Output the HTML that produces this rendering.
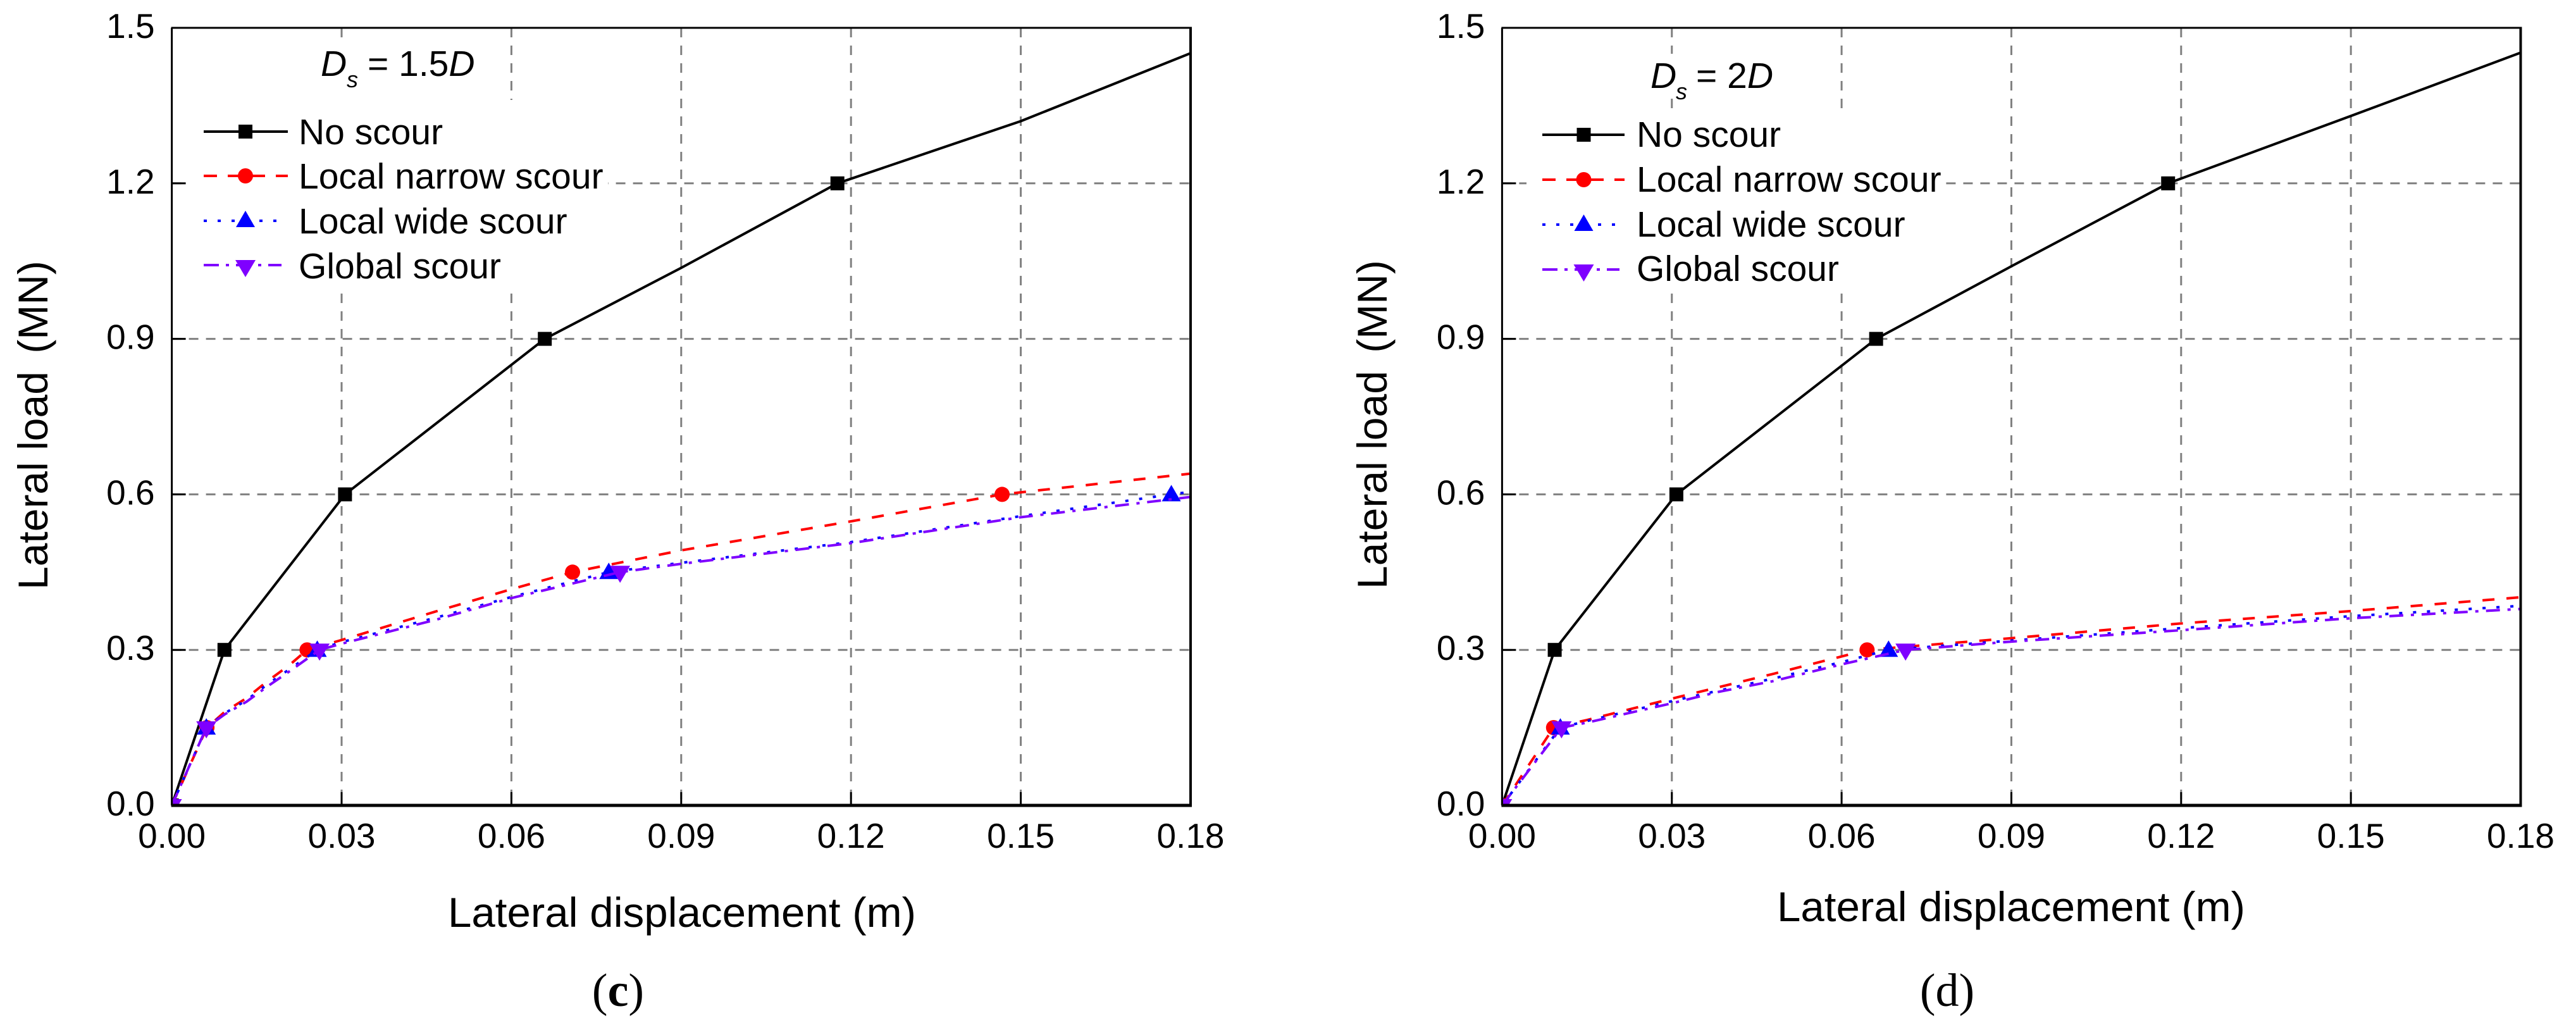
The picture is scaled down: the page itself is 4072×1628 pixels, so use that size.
<!DOCTYPE html>
<html lang="en">
<head>
<meta charset="utf-8">
<title>Lateral load vs lateral displacement under scour, panels c and d</title>
<style>
  html, body { margin: 0; padding: 0; background: #fff; }
  svg { display: block; }
  text { font-family: "Liberation Sans", Arial, sans-serif; fill: #000; }
  .tick { font-size: 55px; }
  .title { font-size: 66px; }
  .leg { font-size: 57px; }
  .note { font-size: 57px; }
  .cap { font-family: "Liberation Serif", "Times New Roman", serif; font-size: 74px; }
</style>
</head>
<body>
<svg id="chart" xmlns="http://www.w3.org/2000/svg" width="4072" height="1628" viewBox="0 0 4072 1628">
  <rect x="0" y="0" width="4072" height="1628" fill="#fff"/>
  <defs>
    <clipPath id="clip-c"><rect x="271.6" y="44" width="1610.4" height="1229"/></clipPath>
    <clipPath id="clip-d"><rect x="2374.4" y="44" width="1610.1" height="1229"/></clipPath>
  </defs>

  <g id="panel-c">
    <g id="grid-c"></g>
    <rect x="490" y="65" width="100" height="93" fill="#fff"/>
    <rect x="296" y="158" width="665" height="304" fill="#fff"/>
    <g id="series-c" clip-path="url(#clip-c)"></g>
    <g id="axes-c"></g>

    <g>
      <text class="note" x="507" y="120" font-style="italic">D</text>
      <text x="548" y="138" font-size="36" font-style="italic">s</text>
      <text class="note" x="581" y="120">= 1.5<tspan font-style="italic">D</tspan></text>
    </g>

    <g>
      <g>
        <line x1="322" y1="208" x2="455" y2="208" stroke="#000" stroke-width="4"/>
        <rect x="377" y="197" width="22" height="22" fill="#000"/>
        <text class="leg" x="472" y="228">No scour</text>
      </g>
      <g>
        <line x1="322" y1="278" x2="455" y2="278" stroke="#f00" stroke-width="4" stroke-dasharray="21 17"/>
        <circle cx="388" cy="278" r="12" fill="#f00"/>
        <text class="leg" x="472" y="298">Local narrow scour</text>
      </g>
      <g>
        <line x1="322" y1="349" x2="445" y2="349" stroke="#00f" stroke-width="4" stroke-dasharray="5 17"/>
        <polygon points="388,333 373,359 403,359" fill="#00f"/>
        <text class="leg" x="472" y="369">Local wide scour</text>
      </g>
      <g>
        <line x1="322" y1="419" x2="445" y2="419" stroke="#7f00ff" stroke-width="4" stroke-dasharray="24 11 5 11"/>
        <polygon points="372,411 404,411 388,438" fill="#7f00ff"/>
        <text class="leg" x="472" y="440">Global scour</text>
      </g>
    </g>

    <text class="title" x="708" y="1465" textLength="740" lengthAdjust="spacingAndGlyphs">Lateral displacement (m)</text>
    <text class="title" transform="translate(75,932) rotate(-90)" x="0" y="0">Lateral load <tspan dx="10">(MN)</tspan></text>
    <text class="cap" x="977" y="1590" text-anchor="middle">(<tspan font-weight="bold">c</tspan>)</text>
  </g>

  <g id="panel-d">
    <g id="grid-d"></g>
    <rect x="2590" y="85" width="100" height="71" fill="#fff"/>
    <rect x="2413" y="176" width="662" height="286" fill="#fff"/>
    <g id="series-d" clip-path="url(#clip-d)"></g>
    <g id="axes-d"></g>

    <g>
      <text class="note" x="2609" y="139" font-style="italic">D</text>
      <text x="2649" y="157" font-size="36" font-style="italic">s</text>
      <text class="note" x="2681" y="139">= 2<tspan font-style="italic">D</tspan></text>
    </g>

    <g>
      <g>
        <line x1="2438" y1="213" x2="2568" y2="213" stroke="#000" stroke-width="4"/>
        <rect x="2492.5" y="202" width="22" height="22" fill="#000"/>
        <text class="leg" x="2587" y="232">No scour</text>
      </g>
      <g>
        <line x1="2438" y1="284" x2="2568" y2="284" stroke="#f00" stroke-width="4" stroke-dasharray="21 17"/>
        <circle cx="2503.5" cy="284" r="12" fill="#f00"/>
        <text class="leg" x="2587" y="303">Local narrow scour</text>
      </g>
      <g>
        <line x1="2438" y1="355" x2="2560" y2="355" stroke="#00f" stroke-width="4" stroke-dasharray="5 17"/>
        <polygon points="2503.5,339 2488.5,365 2518.5,365" fill="#00f"/>
        <text class="leg" x="2587" y="374">Local wide scour</text>
      </g>
      <g>
        <line x1="2438" y1="426" x2="2560" y2="426" stroke="#7f00ff" stroke-width="4" stroke-dasharray="24 11 5 11"/>
        <polygon points="2487.5,418 2519.5,418 2503.5,445" fill="#7f00ff"/>
        <text class="leg" x="2587" y="444">Global scour</text>
      </g>
    </g>

    <text class="title" x="2809" y="1456" textLength="740" lengthAdjust="spacingAndGlyphs">Lateral displacement (m)</text>
    <text class="title" transform="translate(2192,931) rotate(-90)" x="0" y="0">Lateral load <tspan dx="10">(MN)</tspan></text>
    <text class="cap" x="3078" y="1590" text-anchor="middle">(d)</text>
  </g>
</svg>

<script>
// Axis ticks
const xTickValues = [0, 0.03, 0.06, 0.09, 0.12, 0.15, 0.18];
const xTickLabels = ['0.00', '0.03', '0.06', '0.09', '0.12', '0.15', '0.18'];
const yTickValues = [0, 0.3, 0.6, 0.9, 1.2, 1.5];
const yTickLabels = ['0.0', '0.3', '0.6', '0.9', '1.2', '1.5'];

// Panel (c) Ds = 1.5D
const cNoScourDisp = [0, 0.0093, 0.0306, 0.0659, 0.09, 0.1176, 0.15, 0.18];
const cNoScourLoad = [0, 0.3, 0.6, 0.9, 1.037, 1.2, 1.32, 1.451];
const cNoScourMark = [1, 1, 1, 1, 0, 1, 0, 0];

const cNarrowDisp = [0, 0.0062, 0.0094, 0.0132, 0.0167, 0.0207, 0.0239, 0.03, 0.0466, 0.06, 0.0708, 0.09, 0.12, 0.1467, 0.18];
const cNarrowLoad = [0, 0.15, 0.181, 0.207, 0.238, 0.27, 0.3, 0.319, 0.374, 0.417, 0.45, 0.492, 0.548, 0.6, 0.64];
const cNarrowMark = [1, 1, 0, 0, 0, 0, 1, 0, 0, 0, 1, 0, 0, 1, 0];

const cWideDisp = [0, 0.0061, 0.0094, 0.0132, 0.0167, 0.0207, 0.0257, 0.03, 0.0466, 0.06, 0.0772, 0.09, 0.12, 0.15, 0.1766, 0.18];
const cWideLoad = [0, 0.15, 0.178, 0.203, 0.232, 0.262, 0.3, 0.315, 0.362, 0.402, 0.45, 0.468, 0.508, 0.558, 0.6, 0.605];
const cWideMark = [1, 1, 0, 0, 0, 0, 1, 0, 0, 0, 1, 0, 0, 0, 1, 0];

const cGlobalDisp = [0, 0.0061, 0.0094, 0.0132, 0.0167, 0.0207, 0.0261, 0.03, 0.0466, 0.06, 0.0792, 0.09, 0.12, 0.15, 0.18];
const cGlobalLoad = [0, 0.15, 0.176, 0.2, 0.228, 0.258, 0.3, 0.312, 0.358, 0.4, 0.45, 0.466, 0.506, 0.556, 0.595];
const cGlobalMark = [1, 1, 0, 0, 0, 0, 1, 0, 0, 0, 1, 0, 0, 0, 0];

// Panel (d) Ds = 2D
const dNoScourDisp = [0, 0.0093, 0.0308, 0.0661, 0.09, 0.1177, 0.15, 0.18];
const dNoScourLoad = [0, 0.3, 0.6, 0.9, 1.04, 1.2, 1.33, 1.452];
const dNoScourMark = [1, 1, 1, 1, 0, 1, 0, 0];

const dNarrowDisp = [0, 0.0091, 0.0151, 0.0311, 0.048, 0.0606, 0.0645, 0.09, 0.12, 0.15, 0.18];
const dNarrowLoad = [0, 0.15, 0.165, 0.209, 0.254, 0.289, 0.3, 0.3226, 0.351, 0.375, 0.4015];
const dNarrowMark = [1, 1, 0, 0, 0, 0, 1, 0, 0, 0, 0];

const dWideDisp = [0, 0.0103, 0.0151, 0.0311, 0.048, 0.0606, 0.0683, 0.09, 0.12, 0.15, 0.18];
const dWideLoad = [0, 0.15, 0.163, 0.204, 0.245, 0.278, 0.3, 0.318, 0.342, 0.365, 0.385];
const dWideMark = [1, 1, 0, 0, 0, 0, 1, 0, 0, 0, 0];

const dGlobalDisp = [0, 0.0105, 0.0151, 0.03, 0.0381, 0.048, 0.06, 0.0713, 0.09, 0.12, 0.15, 0.18];
const dGlobalLoad = [0, 0.15, 0.16, 0.197, 0.2187, 0.24, 0.272, 0.3, 0.316, 0.338, 0.361, 0.379];
const dGlobalMark = [1, 1, 0, 0, 0, 0, 0, 1, 0, 0, 0, 0];

const SVG_NS = 'http://www.w3.org/2000/svg';
const X_MAX = 0.18;
const Y_MAX = 1.5;
const PLOT_TOP = 44;
const PLOT_BOTTOM = 1273;

function node(tag, parent, props) {
  const el = document.createElementNS(SVG_NS, tag);
  for (const k in props) el.setAttribute(k, props[k]);
  parent.appendChild(el);
  return el;
}

function drawMarker(kind, parent, cx, cy, color, seriesName) {
  let el;
  if (kind === 'square') {
    el = node('rect', parent, { x: cx - 11, y: cy - 11, width: 22, height: 22, fill: color });
  } else if (kind === 'circle') {
    el = node('circle', parent, { cx: cx, cy: cy, r: 12, fill: color });
  } else if (kind === 'up') {
    el = node('polygon', parent, { points: (cx) + ',' + (cy - 15) + ' ' + (cx - 15) + ',' + (cy + 11) + ' ' + (cx + 15) + ',' + (cy + 11), fill: color });
  } else {
    el = node('polygon', parent, { points: (cx - 16) + ',' + (cy - 10) + ' ' + (cx + 16) + ',' + (cy - 10) + ' ' + (cx) + ',' + (cy + 17), fill: color });
  }
  
  
}

function drawSeries(parent, sx, sy, disp, load, mark, seriesName, color, dash, kind) {
  const pts = disp.map(function (d, i) { return sx(d).toFixed(1) + ',' + sy(load[i]).toFixed(1); }).join(' ');
  const line = node('polyline', parent, { points: pts, fill: 'none', stroke: color, 'stroke-width': 4, 'stroke-linejoin': 'round' });
  if (dash) line.setAttribute('stroke-dasharray', dash);
  
  
  disp.forEach(function (d, i) {
    if (mark[i]) drawMarker(kind, parent, sx(d), sy(load[i]), color, seriesName);
  });
}

function drawPanel(id, x0, x1, seriesList) {
  const sx = function (v) { return x0 + (v / X_MAX) * (x1 - x0); };
  const sy = function (v) { return PLOT_BOTTOM - (v / Y_MAX) * (PLOT_BOTTOM - PLOT_TOP); };
  const grid = document.getElementById('grid-' + id);
  const series = document.getElementById('series-' + id);
  const axes = document.getElementById('axes-' + id);

  xTickValues.forEach(function (v) {
    if (v === 0 || v === X_MAX) return;
    const g = node('line', grid, { x1: sx(v), x2: sx(v), y1: PLOT_TOP, y2: PLOT_BOTTOM, stroke: '#808080', 'stroke-width': 3, 'stroke-dasharray': '15 13' });
    
    
  });
  yTickValues.forEach(function (v) {
    if (v === 0 || v === Y_MAX) return;
    const g = node('line', grid, { x1: x0, x2: x1, y1: sy(v), y2: sy(v), stroke: '#808080', 'stroke-width': 3, 'stroke-dasharray': '15 12' });
    
    
  });

  seriesList.forEach(function (s) {
    drawSeries(series, sx, sy, s[0], s[1], s[2], s[3], s[4], s[5], s[6]);
  });

  const frameTop = node('line', axes, { x1: x0 - 1, x2: x1 + 2, y1: PLOT_TOP, y2: PLOT_TOP, stroke: '#000', 'stroke-width': 3 });
  
  
  const frameRight = node('line', axes, { x1: x1, x2: x1, y1: PLOT_TOP, y2: PLOT_BOTTOM, stroke: '#000', 'stroke-width': 4 });
  
  
  const frameLeft = node('line', axes, { x1: x0, x2: x0, y1: PLOT_TOP, y2: PLOT_BOTTOM, stroke: '#000', 'stroke-width': 3 });
  
  
  const frameBottom = node('line', axes, { x1: x0 - 1, x2: x1 + 2, y1: PLOT_BOTTOM, y2: PLOT_BOTTOM, stroke: '#000', 'stroke-width': 5 });
  
  

  xTickValues.forEach(function (v, i) {
    const t = node('line', axes, { x1: sx(v), x2: sx(v), y1: PLOT_BOTTOM - 21, y2: PLOT_BOTTOM, stroke: '#000', 'stroke-width': 3 });
    
    
    const l = node('text', axes, { x: sx(v), y: 1340, 'text-anchor': 'middle', class: 'tick' });
    l.textContent = xTickLabels[i];
    
    
  });
  yTickValues.forEach(function (v, i) {
    const t = node('line', axes, { x1: x0, x2: x0 + 22, y1: sy(v), y2: sy(v), stroke: '#000', 'stroke-width': 3 });
    
    
    const l = node('text', axes, { x: x0 - 27, y: sy(v) + 16, 'text-anchor': 'end', class: 'tick' });
    l.textContent = yTickLabels[i];
    
    
  });
}

const RED_DASH = '19 19';
const BLUE_DOT = '5 17';
const PURPLE_DASHDOT = '22 12 5 12';

drawPanel('c', 271.6, 1882, [
  [cNoScourDisp, cNoScourLoad, cNoScourMark, 'no-scour', '#000', null, 'square'],
  [cNarrowDisp, cNarrowLoad, cNarrowMark, 'local-narrow-scour', '#f00', RED_DASH, 'circle'],
  [cWideDisp, cWideLoad, cWideMark, 'local-wide-scour', '#00f', BLUE_DOT, 'up'],
  [cGlobalDisp, cGlobalLoad, cGlobalMark, 'global-scour', '#7f00ff', PURPLE_DASHDOT, 'down']
]);
drawPanel('d', 2374.4, 3984.5, [
  [dNoScourDisp, dNoScourLoad, dNoScourMark, 'no-scour', '#000', null, 'square'],
  [dNarrowDisp, dNarrowLoad, dNarrowMark, 'local-narrow-scour', '#f00', RED_DASH, 'circle'],
  [dWideDisp, dWideLoad, dWideMark, 'local-wide-scour', '#00f', BLUE_DOT, 'up'],
  [dGlobalDisp, dGlobalLoad, dGlobalMark, 'global-scour', '#7f00ff', PURPLE_DASHDOT, 'down']
]);
</script>
</body>
</html>
